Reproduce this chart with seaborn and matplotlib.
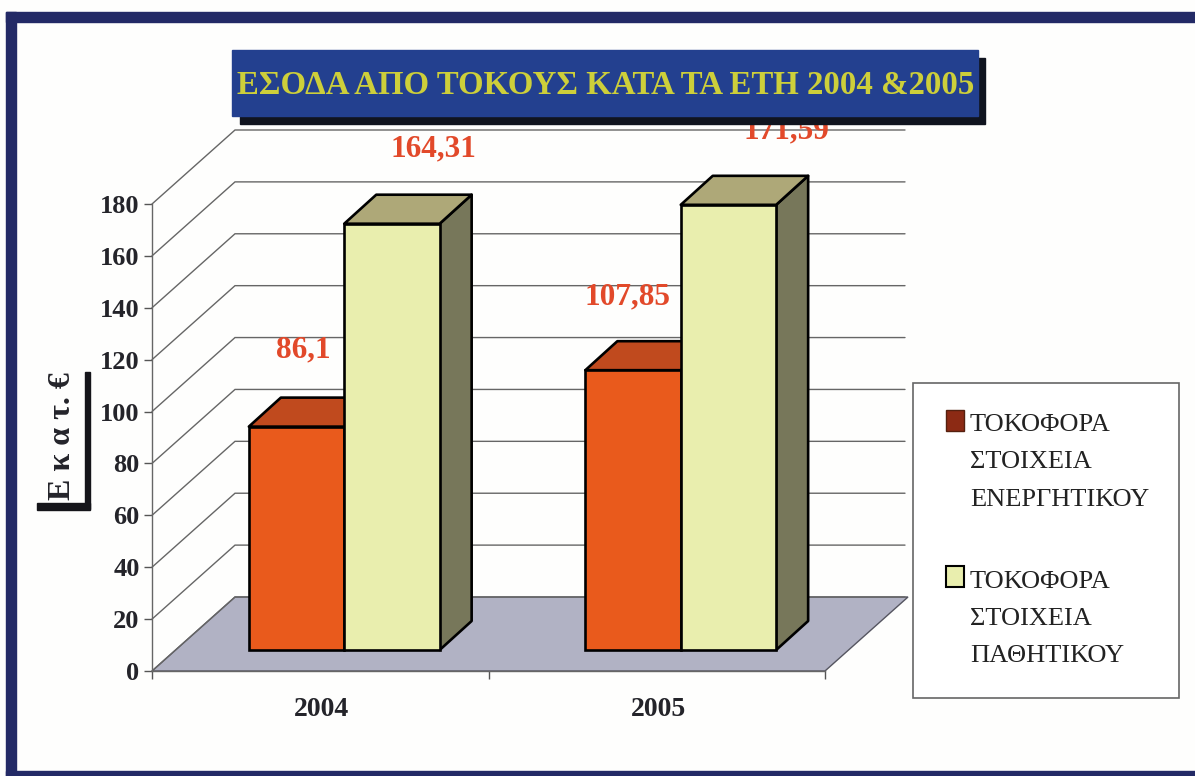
import matplotlib
matplotlib.use("Agg")
import matplotlib.pyplot as plt
import pandas as pd
import seaborn as sns
from matplotlib.legend_handler import HandlerPatch
from matplotlib.patches import Patch, Polygon, Rectangle
from matplotlib.transforms import Affine2D, Bbox, IdentityTransform

years = ["2004", "2005"]
assets = [86.1, 107.85]
liabilities = [164.31, 171.59]
series_names = ["ΤΟΚΟΦΟΡΑ\nΣΤΟΙΧΕΙΑ\nΕΝΕΡΓΗΤΙΚΟΥ", "ΤΟΚΟΦΟΡΑ\nΣΤΟΙΧΕΙΑ\nΠΑΘΗΤΙΚΟΥ"]
yticks = list(range(0, 181, 20))

W, H = 1195, 776
front = ["#e95a1c", "#e9eeae"]
tops = ["#c04a1e", "#aea878"]
sides = ["#9a3c18", "#77775a"]
dark = "#24242a"
red = "#e2492a"

sns.set_theme(style="white")
plt.rcParams["font.family"] = ["Liberation Serif", "DejaVu Serif"]

df = pd.DataFrame({
    "year": years * 2,
    "value": assets + liabilities,
    "series": [series_names[0]] * 2 + [series_names[1]] * 2,
})

fig = plt.figure(figsize=(W / 100, H / 100), dpi=100, facecolor="#fefefd")
ax = fig.add_axes([152 / W, (H - 671) / H, 673 / W, 467 / H])
ax.patch.set_alpha(0)

sns.barplot(data=df, x="year", y="value", hue="series", palette=front,
            width=0.567, edgecolor="black", linewidth=1.9, saturation=1,
            legend=False, ax=ax)
ax.set_xlim(-0.5, 1.5)
ax.set_ylim(0, 180)
ax.set_yticks(yticks)
ax.set_xlabel("")
sns.despine(ax=ax)


def px(x, y):
    return (x, H - y)


def screen_rect(x0, y0, x1, y1, **kw):
    r = Rectangle(px(x0, y1), x1 - x0, y1 - y0, transform=IdentityTransform(), **kw)
    fig.add_artist(r)
    return r


# page frame
frame = "#232a66"
screen_rect(6, 12, 1195, 22, color=frame, zorder=0)
screen_rect(6, 12, 16, 776, color=frame, zorder=0)
screen_rect(6, 771, 1195, 776, color=frame, zorder=0)

# 3d floor, wall and gridlines, all pushed back by the same depth
fig.canvas.draw()
depth = (83, 74)
start = (24, 21)
bar_depth = (32, 29)
right_end = 905
toD = ax.transData.transform


def poly(points, **kw):
    ax.add_patch(Polygon(points, closed=True, transform=IdentityTransform(),
                         clip_on=False, **kw))


bars = sorted([p for p in ax.patches if isinstance(p, Rectangle) and p.get_height() > 0],
              key=lambda p: p.get_x())

x0, y0 = toD((-0.5, 0))
x1, _ = toD((1.5, 0))
poly([(x0, y0), (x1, y0), (x1 + depth[0], y0 + depth[1]), (x0 + depth[0], y0 + depth[1])],
     facecolor="#b1b2c4", edgecolor="#555560", linewidth=1, zorder=1)
for v in yticks:
    _, yv = toD((-0.5, v))
    ax.plot([x0, x0 + depth[0], right_end], [yv, yv + depth[1], yv + depth[1]],
            color="#666666", linewidth=1, transform=IdentityTransform(),
            clip_on=False, zorder=1.5, solid_joinstyle="miter")

# bar faces: seaborn's bars are moved onto the floor, then sides and tops are added
shift = ax.transData + Affine2D().translate(*start)
for i, bar in enumerate(bars):
    z = 2 + i
    idx = i % 2
    (bx0, by0) = toD((bar.get_x(), 0))
    (bx1, by1) = toD((bar.get_x() + bar.get_width(), bar.get_height()))
    bx0 += start[0]; bx1 += start[0]; by0 += start[1]; by1 += start[1]
    poly([(bx1, by0), (bx1 + bar_depth[0], by0 + bar_depth[1]),
          (bx1 + bar_depth[0], by1 + bar_depth[1]), (bx1, by1)],
         facecolor=sides[idx], edgecolor="black", linewidth=1.9, zorder=z, joinstyle="round")
    poly([(bx0, by1), (bx1, by1), (bx1 + bar_depth[0], by1 + bar_depth[1]),
          (bx0 + bar_depth[0], by1 + bar_depth[1])],
         facecolor=tops[idx], edgecolor="black", linewidth=1.9, zorder=z, joinstyle="round")
    bar.set_transform(shift)
    bar.set_clip_on(False)
    bar.set_zorder(z + 0.5)

# value labels
label_dx = [7, -6, 41, 58]
label_dy = [55, 53, 53.5, 53]
label_values = [assets[0], assets[1], liabilities[0], liabilities[1]]
order = [bars[0], bars[2], bars[1], bars[3]]
clip = Bbox.from_extents(0, 0, W, H - 125)
for bar, val, dx, dy in zip(order, label_values, label_dx, label_dy):
    t = ax.annotate(str(val).replace(".", ","),
                    xy=(bar.get_x() + bar.get_width() / 2, bar.get_height()),
                    xytext=(dx * 0.72 + start[0] * 0.72, dy + start[1] * 0.72),
                    textcoords="offset points", ha="center", va="center",
                    color=red, fontsize=22.5, fontweight="bold", zorder=8,
                    annotation_clip=False)
    t.set_clip_box(clip)
    t.set_clip_on(True)

# axes text
ax.set_xticks([-0.5, 0.5, 1.5], labels=["", "", ""])
ax.tick_params(axis="y", length=6, width=1, color="#555555", pad=3, left=True,
               labelsize=19, labelcolor=dark)
ax.tick_params(axis="x", length=6, width=1, color="#555555", bottom=True)
for spine in ["left", "bottom"]:
    ax.spines[spine].set_color("#666666")
    ax.spines[spine].set_linewidth(1)
for lab in ax.get_yticklabels():
    lab.set_fontweight("bold")
for i, yr in enumerate(years):
    ax.annotate(yr, xy=(i, 0), xytext=(1, -28), textcoords="offset points",
                ha="center", va="center", fontsize=20, fontweight="bold", color=dark,
                annotation_clip=False)

ax.set_ylabel("")
fig.text(62 / W, (H - 436) / H, "Ε κ α τ. €", rotation=90, ha="center", va="center",
         fontsize=23, fontweight="bold", color=dark)
screen_rect(85, 372, 90, 509, color="#15151a")
screen_rect(37, 503, 90, 510, color="#15151a")

# title box
screen_rect(240, 58, 985, 124, color="#10141f", zorder=6)
screen_rect(232, 50, 978, 116, color="#23408f", zorder=7)
fig.text(606 / W, (H - 85) / H, "ΕΣΟΔΑ ΑΠΟ ΤΟΚΟΥΣ ΚΑΤΑ ΤΑ ΕΤΗ 2004 &2005", ha="center",
         va="center", fontsize=23.7, fontweight="bold", color="#cdcf3a", zorder=8)

# legend
box = Rectangle(px(913, 698), 266, 315, facecolor="white", edgecolor="#666666", linewidth=1.2,
                transform=IdentityTransform(), clip_on=False, zorder=8)
ax.add_patch(box)


def first_line_box(legend=None, orig_handle=None, xdescent=0, ydescent=0,
                   width=0, height=0, fontsize=0):
    return Rectangle((xdescent, ydescent + 29), 13, 15)


handles = [Patch(facecolor="#8c2a14", edgecolor="#55200f", linewidth=1),
           Patch(facecolor="#e9eeae", edgecolor="black", linewidth=1.5)]
leg = ax.legend(handles, series_names, loc="upper left",
                bbox_to_anchor=(946 / W, (H - 414) / H), bbox_transform=fig.transFigure,
                frameon=False, fontsize=19, labelspacing=2.28, handlelength=0.75,
                handletextpad=0.15, borderpad=0, borderaxespad=0,
                handler_map={Patch: HandlerPatch(patch_func=first_line_box)},
                labelcolor="#222222")
leg.set_zorder(9)
for t in leg.get_texts():
    t.set_linespacing(1.9)

fig.savefig("out.png", dpi=100, facecolor=fig.get_facecolor())
